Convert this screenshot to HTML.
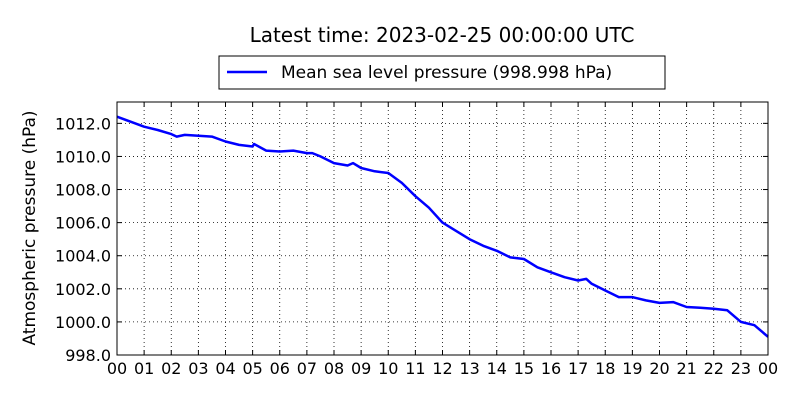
<!DOCTYPE html>
<html><head><meta charset="utf-8"><style>
body{margin:0;background:#fff;}
svg{font-family:"DejaVu Sans","Liberation Sans",sans-serif;}
</style></head><body>
<svg width="800" height="400" viewBox="0 0 800 400">
<rect width="800" height="400" fill="#fff"/>
<text x="442" y="42" font-size="20" text-anchor="middle">Latest time: 2023-02-25 00:00:00 UTC</text>
<g>
<rect x="219" y="56" width="446" height="33" fill="#fff" stroke="#000" stroke-width="1"/>
<line x1="227" y1="72" x2="267" y2="72" stroke="#0000ff" stroke-width="2.5"/>
<text x="281" y="78" font-size="17">Mean sea level pressure (998.998 hPa)</text>
</g>
<text transform="translate(35,228) rotate(-90)" font-size="17" text-anchor="middle">Atmospheric pressure (hPa)</text>
<g id="grid"></g>
<g id="ticks"></g>
<path id="series" fill="none" stroke="#0000ff" stroke-width="2.5" stroke-linejoin="round"/>
<rect x="117" y="102" width="651" height="253" fill="none" stroke="#000" stroke-width="1"/>
</svg>
<script>
const hours=[0,0.5,1,1.5,2,2.2,2.5,3,3.5,4,4.5,5,5.05,5.5,6,6.5,7,7.2,7.5,8,8.5,8.7,9,9.5,10,10.5,11,11.5,12,12.5,13,13.5,14,14.5,15,15.5,16,16.5,17,17.3,17.5,18,18.5,19,19.5,20,20.5,21,21.5,22,22.5,23,23.5,24];
const pressure=[1012.4,1012.1,1011.8,1011.6,1011.35,1011.2,1011.3,1011.25,1011.2,1010.9,1010.7,1010.6,1010.75,1010.35,1010.3,1010.35,1010.2,1010.2,1010.0,1009.6,1009.45,1009.6,1009.3,1009.1,1009.0,1008.4,1007.6,1006.9,1006.0,1005.5,1005.0,1004.6,1004.3,1003.9,1003.8,1003.3,1003.0,1002.7,1002.5,1002.6,1002.3,1001.9,1001.5,1001.5,1001.3,1001.15,1001.2,1000.9,1000.85,1000.8,1000.7,1000.0,999.8,999.1];
const yTicks=[998,1000,1002,1004,1006,1008,1010,1012];
const xTickLabels=["00","01","02","03","04","05","06","07","08","09","10","11","12","13","14","15","16","17","18","19","20","21","22","23","00"];
const L=117,R=768,T=102,B=355,yMin=998,yMax=1013.29;
const xs=h=>L+(R-L)*h/24;
const ys=p=>B-(B-T)*(p-yMin)/(yMax-yMin);
const NS="http://www.w3.org/2000/svg";
const grid=document.getElementById('grid'),ticks=document.getElementById('ticks');
function mk(tag,at,parent){const e=document.createElementNS(NS,tag);for(const k in at)e.setAttribute(k,at[k]);parent.appendChild(e);return e;}
yTicks.forEach(v=>{const y=ys(v);
 const g=mk('line',{x1:L,x2:R,y1:y,y2:y,stroke:'#000','stroke-width':0.8,'stroke-dasharray':'1,3'},grid);
 
 
 mk('line',{x1:L,x2:L+5,y1:y,y2:y,stroke:'#000'},ticks);
 mk('line',{x1:R-5,x2:R,y1:y,y2:y,stroke:'#000'},ticks);
 const t=mk('text',{x:L-6,y:y+6,'font-size':16,'text-anchor':'end'},ticks);
 t.textContent=v.toFixed(1);
 
 
});
xTickLabels.forEach((lab,i)=>{const x=xs(i);
 const g=mk('line',{x1:x,x2:x,y1:T,y2:B,stroke:'#000','stroke-width':0.8,'stroke-dasharray':'1,3'},grid);
 
 
 mk('line',{x1:x,x2:x,y1:B-5,y2:B,stroke:'#000'},ticks);
 mk('line',{x1:x,x2:x,y1:T,y2:T+5,stroke:'#000'},ticks);
 const t=mk('text',{x:x,y:B+19,'font-size':16,'text-anchor':'middle'},ticks);
 t.textContent=lab;
 
 
});
document.getElementById('series').setAttribute('d',hours.map((h,i)=>(i?'L':'M')+xs(h).toFixed(1)+','+ys(pressure[i]).toFixed(1)).join(' '));
</script>
</body></html>
